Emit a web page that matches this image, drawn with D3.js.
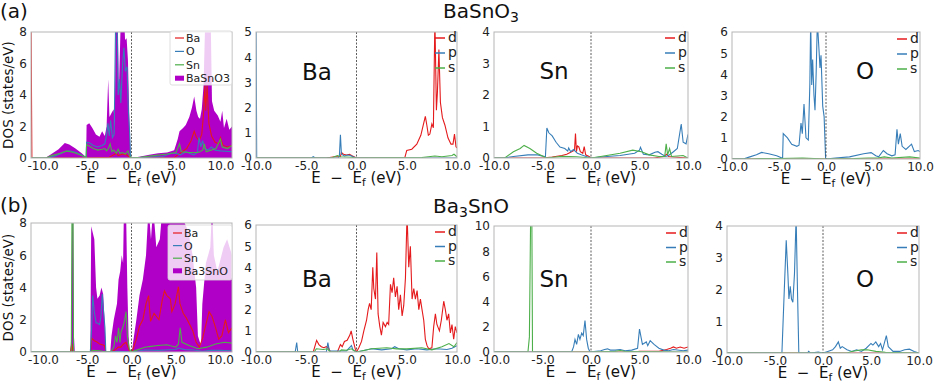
<!DOCTYPE html>
<html>
<head>
<meta charset="utf-8">
<script src="https://cdn.jsdelivr.net/npm/d3@7"></script>
<style>
  body { margin: 0; background: #fff; }
  text { font-family: "DejaVu Sans", sans-serif; }
</style>
</head>
<body>
<svg id="fig" width="937" height="384"></svg>
<script>
// ---- data: [energy (eV), DOS] ----

// (a) BaSnO3 total + atom projections
const totA = [[-11.3,0],[-9.7,0],[-9.0,0.25],[-8.2,0.55],[-7.5,0.95],[-7.0,0.85],[-6.3,0.6],[-5.6,0.3],[-5.1,0.05],[-5.05,2.1],[-4.75,2.2],[-4.4,1.9],[-4.0,1.5],[-3.6,1.35],[-3.3,1.7],[-3.0,1.4],[-2.8,2.0],[-2.62,5.0],[-2.48,2.6],[-2.2,2.9],[-2.0,3.1],[-1.88,2.0],[-1.78,9],[-1.55,9],[-1.42,4.2],[-1.22,8.5],[-1.05,9],[-0.85,9],[-0.72,7.5],[-0.55,7.6],[-0.4,6.2],[-0.22,2.0],[-0.1,0],[0,0],[1.0,0.1],[2.0,0.2],[3.0,0.3],[4.0,0.35],[4.8,0.5],[5.2,1.2],[5.4,1.7],[5.8,1.9],[6.1,2.1],[6.5,2.6],[6.8,3.2],[7.05,3.9],[7.3,3.0],[7.5,2.6],[7.7,2.5],[7.9,3.1],[8.1,4.6],[8.3,9],[8.6,9],[8.9,9],[9.05,3.6],[9.3,3.0],[9.7,2.7],[10.0,2.3],[10.2,3.0],[10.4,1.9],[10.7,2.5],[11.0,1.8],[11.3,2.0]];
const baA = [[-11.3,9],[-11.2,0],[-5,0],[-2.5,0.05],[-1.7,0.3],[-1.5,0.15],[-1.0,0.25],[-0.6,0.2],[-0.2,0.05],[0,0],[4.8,0.02],[5.2,0.2],[5.6,0.35],[6.2,0.6],[6.7,1.1],[7.05,1.7],[7.3,1.3],[7.6,1.1],[7.9,1.5],[8.1,2.8],[8.25,4.6],[8.35,3.0],[8.5,4.6],[8.7,2.2],[9.0,1.4],[9.4,1.0],[9.8,0.9],[10.0,1.3],[10.3,0.8],[10.8,0.7],[11.3,0.8]];
const oA = [[-11.3,0],[-9.3,0],[-8.5,0.15],[-7.5,0.4],[-7.0,0.45],[-6.2,0.35],[-5.5,0.15],[-5.1,0.05],[-5.05,1.0],[-4.7,0.95],[-4.3,0.8],[-3.8,0.7],[-3.3,0.8],[-3.0,0.9],[-2.8,1.5],[-2.65,2.2],[-2.5,1.4],[-2.35,2.4],[-2.15,1.3],[-1.95,1.5],[-1.78,9],[-1.62,9],[-1.5,4.0],[-1.35,5.0],[-1.2,3.5],[-1.0,6.0],[-0.85,7.0],[-0.7,5.5],[-0.5,5.8],[-0.35,3.0],[-0.2,1.5],[-0.1,0],[0,0],[1.5,0.05],[3.5,0.1],[4.5,0.3],[5.0,0.3],[5.5,0.2],[6.1,0.4],[6.5,0.3],[7.0,0.2],[7.4,0.35],[7.6,1.3],[7.8,0.7],[8.0,1.1],[8.2,0.6],[8.6,0.5],[9.0,0.7],[9.4,0.5],[10.0,0.45],[11.3,0.4]];
const snA = [[-11.3,0],[-9.6,0],[-9.0,0.15],[-8.0,0.3],[-7.3,0.45],[-6.5,0.35],[-5.8,0.2],[-5.1,0.05],[-5.05,0.85],[-4.7,0.75],[-4.3,0.6],[-3.8,0.5],[-3.3,0.55],[-3.0,0.6],[-2.8,0.45],[-2.6,0.6],[-2.4,0.9],[-2.2,0.4],[-2.0,0.5],[-1.7,0.3],[-1.5,0.55],[-1.3,0.3],[-1.0,0.35],[-0.7,0.25],[-0.4,0.45],[-0.2,0.1],[0,0],[1.0,0.05],[2.5,0.15],[4.0,0.25],[5.0,0.35],[5.4,0.9],[5.6,0.4],[6.5,0.35],[7.5,0.35],[8.0,0.5],[8.2,0.9],[8.4,0.4],[9.5,0.6],[10.0,1.2],[10.2,0.7],[10.8,0.6],[11.3,0.8]];

// BaSnO3: Ba, Sn, O orbitals
const baD1 = [[-10,0],[-3,0],[-2.2,0.05],[-1.6,0.05],[-1.5,0.22],[-1.3,0.15],[-1.0,0.12],[-0.7,0.15],[-0.4,0.08],[0,0],[4.8,0],[5.0,0.3],[5.5,0.35],[6.0,0.55],[6.4,0.9],[6.7,1.4],[6.85,1.65],[7.0,1.3],[7.15,0.9],[7.3,0.95],[7.5,1.35],[7.65,1.2],[7.8,5.5],[7.95,1.9],[8.05,2.6],[8.2,4.3],[8.35,2.2],[8.55,1.6],[8.8,1.3],[9.1,0.8],[9.4,0.55],[9.6,0.55],[9.75,0.95],[9.9,0.45],[10,0.4]];
const baP1 = [[-10,6],[-9.93,0],[-4.5,0],[-4.3,0.05],[-4.1,0],[-1.8,0],[-1.7,0.1],[-1.6,0.92],[-1.5,0.15],[-1.2,0.08],[-0.9,0.12],[-0.6,0.1],[-0.35,0.05],[0,0],[10,0]];
const baS1 = [[-10,0],[-2.5,0],[-2.2,0.05],[-1.9,0.1],[-1.6,0.05],[-0.5,0.03],[0,0],[6.5,0.02],[7.8,0.08],[8.5,0.05],[9.5,0.1],[9.7,0.15],[10,0.05]];
const snD1 = [[-10,0],[-5,0],[-4,0.03],[-3,0.08],[-2.5,0.12],[-2.0,0.2],[-1.7,0.25],[-1.6,0.78],[-1.5,0.2],[-1.4,0.38],[-1.25,0.35],[-1.1,0.2],[-0.85,0.15],[-0.7,0.36],[-0.55,0.1],[-0.2,0.05],[0,0],[6.5,0],[7.5,0.05],[7.8,0.12],[8.0,0.05],[8.5,0.03],[10,0]];
const snP1 = [[-10,0],[-9,0],[-8,0.05],[-6.5,0.1],[-5.5,0.1],[-4.7,0.04],[-4.55,0.95],[-4.35,0.8],[-4.0,0.7],[-3.6,0.5],[-3.2,0.35],[-2.7,0.3],[-2.4,0.22],[-2.3,0.32],[-2.1,0.2],[-1.8,0.27],[-1.4,0.15],[-1.0,0.1],[-0.5,0.05],[0,0],[1,0.03],[3,0.08],[4.5,0.15],[5.0,0.25],[5.1,0.34],[5.4,0.12],[6.0,0.1],[6.6,0.18],[6.9,0.2],[7.3,0.12],[7.7,0.05],[8.0,0.08],[8.5,0.2],[8.9,0.3],[9.3,1.08],[9.5,0.5],[9.8,0.45],[10,0.75]];
const snS1 = [[-10,0],[-8.9,0],[-8.0,0.2],[-7.3,0.3],[-6.9,0.4],[-6.3,0.3],[-5.6,0.15],[-4.9,0.05],[-4.6,0],[-3.0,0.05],[-1.5,0.04],[0,0],[1.0,0.05],[3.0,0.15],[4.3,0.25],[5.2,0.2],[6.0,0.1],[7.0,0.05],[7.6,0.05],[7.75,0.45],[7.9,0.1],[8.1,0.3],[8.3,0.05],[9.5,0.08],[10,0]];
const oD1 = [[-10,0],[10,0]];
const oP1 = [[-10,0],[-8.8,0],[-8.1,0.1],[-7.4,0.2],[-6.85,0.31],[-6.1,0.25],[-5.25,0.15],[-4.7,0.05],[-4.62,0],[-4.55,1.2],[-4.1,1.0],[-3.65,0.7],[-3.1,0.6],[-2.87,0.65],[-2.66,1.7],[-2.52,1.2],[-2.34,2.6],[-2.13,1.0],[-1.88,0.9],[-1.72,3.5],[-1.63,6.5],[-1.52,3.5],[-1.42,4.7],[-1.28,3.0],[-1.17,2.3],[-1.05,4.0],[-0.92,6.5],[-0.75,5.2],[-0.64,4.3],[-0.53,4.9],[-0.35,2.5],[-0.2,2.0],[-0.04,0],[0,0],[1.0,0.05],[2.5,0.1],[4.0,0.25],[4.8,0.3],[5.3,0.15],[5.6,0.1],[6.1,0.4],[6.5,0.25],[7.0,0.15],[7.35,0.2],[7.55,1.4],[7.7,0.7],[7.9,1.2],[8.1,0.6],[8.5,0.45],[9.1,0.7],[9.4,0.35],[9.8,0.4],[10,0.35]];
const oS1 = [[-10,0],[-8,0],[-7,0.02],[-5,0.02],[-2.5,0.05],[0,0],[3,0.02],[4.5,0.05],[5.5,0.05],[6.2,0.1],[7.0,0.05],[8.9,0.1],[10,0.05]];

// (b) Ba3SnO total + atom projections
const totB = [[-11.35,0],[-6.9,0],[-6.8,1.0],[-6.7,9],[-6.6,9],[-6.5,1.0],[-6.4,0],[-4.65,0],[-4.55,7.8],[-4.2,7.0],[-4.0,4.0],[-3.85,3.3],[-3.6,3.5],[-3.4,4.0],[-3.2,3.6],[-3.05,2.0],[-2.9,0],[-2.4,0],[-2.26,1.0],[-2.0,2.0],[-1.82,2.5],[-1.64,3.0],[-1.46,4.5],[-1.28,5.0],[-1.1,6.0],[-0.95,5.5],[-0.85,9],[-0.62,9],[-0.47,4.0],[-0.33,1.0],[-0.2,0],[0.05,0],[0.18,0.6],[0.55,2.0],[0.9,3.5],[1.28,4.5],[1.64,6.0],[1.93,9],[2.2,7.0],[2.45,9],[2.8,6.5],[3.2,7.0],[3.5,9],[4.2,8.2],[4.6,9],[5.5,9],[6.0,8.0],[6.4,7.5],[6.9,6.0],[7.3,4.0],[7.5,1.0],[7.85,0.4],[8.0,3.0],[8.4,5.5],[8.9,6.5],[9.1,9],[9.3,6.0],[9.7,5.0],[10.4,6.5],[10.8,7.0],[11.35,6.0]];
const baB = [[-11.35,0],[-6.9,0],[-6.75,0.5],[-6.6,0],[-4.6,0],[-4.5,0.85],[-4.2,0.7],[-3.9,0.62],[-3.6,0.5],[-3.3,0.45],[-3.05,0.4],[-2.9,0],[-2.3,0],[-1.8,0.15],[-1.5,0.3],[-1.2,0.3],[-0.9,0.5],[-0.62,0.6],[-0.4,0.3],[-0.2,0],[0.05,0],[0.18,0.2],[0.55,0.8],[0.9,1.6],[1.28,2.0],[1.64,3.0],[1.93,3.5],[2.15,1.9],[2.55,2.4],[3.1,2.0],[3.47,3.2],[3.72,3.8],[4.0,3.5],[4.38,3.3],[4.56,2.5],[4.93,3.0],[5.3,4.05],[5.47,3.0],[5.84,2.4],[6.2,2.1],[6.57,1.7],[6.93,1.3],[7.3,0.6],[7.66,0.3],[8.0,0.8],[8.4,1.7],[8.76,2.5],[9.1,2.2],[9.5,1.5],[9.85,0.8],[10.2,1.0],[10.6,2.0],[10.95,1.2],[11.35,1.5]];
const oB = [[-11.35,0],[-4.65,0],[-4.5,1.5],[-4.38,3.5],[-4.2,2.5],[-4.0,1.8],[-3.85,1.8],[-3.6,1.7],[-3.45,2.2],[-3.3,3.6],[-3.15,2.5],[-3.0,1.5],[-2.9,0],[-1.5,0.05],[0,0],[1.0,0.08],[1.5,0.12],[3.0,0.1],[5.0,0.15],[5.3,0.25],[6.0,0.15],[7.0,0.12],[8.0,0.05],[9.0,0.1],[10.0,0.1],[11.35,0.08]];
const snB = [[-11.35,0],[-6.8,0],[-6.72,9],[-6.6,9],[-6.55,0],[-4.6,0],[-4.4,0.1],[-3.5,0.08],[-2.9,0],[-2.37,0],[-2.0,0.3],[-1.8,1.0],[-1.64,0.6],[-1.46,1.5],[-1.3,0.6],[-1.2,1.2],[-1.0,1.5],[-0.8,1.9],[-0.62,2.5],[-0.47,1.0],[-0.25,0.2],[0,0],[0.5,0.1],[1.5,0.3],[2.2,0.35],[3.0,0.4],[4.0,0.45],[5.0,0.3],[5.3,0.5],[5.5,1.5],[5.7,0.6],[6.5,0.4],[7.5,0.2],[8.5,0.3],[9.5,0.5],[10.5,0.6],[11.35,0.55]];

// Ba3SnO: Ba, Sn, O orbitals
const baD2 = [[-10,0],[-4.3,0],[-3.97,0.55],[-3.74,0.35],[-3.5,0.25],[-3.25,0.2],[-3.0,0.25],[-2.8,0.2],[-2.58,0],[-1.9,0],[-1.6,0.35],[-1.42,0.25],[-1.2,0.5],[-0.93,0.55],[-0.66,0.8],[-0.53,1.0],[-0.36,0.6],[-0.1,0.1],[0,0],[0.23,0.2],[0.5,0.5],[0.73,1.0],[1.0,1.5],[1.16,2.0],[1.3,2.3],[1.46,2.0],[1.62,4.0],[1.72,3.0],[1.89,2.5],[2.02,4.7],[2.15,1.8],[2.32,1.2],[2.48,0.8],[2.65,1.4],[2.88,1.2],[3.05,1.4],[3.2,1.3],[3.38,3.2],[3.54,2.8],[3.7,3.5],[3.87,2.6],[4.04,3.1],[4.2,2.0],[4.37,2.7],[4.54,1.7],[4.7,2.2],[4.87,3.5],[5.03,6.5],[5.2,4.0],[5.36,5.0],[5.53,2.5],[5.7,3.0],[5.86,2.5],[6.03,2.9],[6.2,2.0],[6.36,2.5],[6.52,2.0],[6.69,1.5],[6.85,0.6],[7.02,0.3],[7.19,0.15],[7.5,0.2],[7.68,1.2],[7.85,1.8],[8.0,1.3],[8.25,1.0],[8.44,1.5],[8.68,2.4],[8.84,2.0],[9.0,1.5],[9.17,1.8],[9.34,0.9],[9.5,1.3],[9.67,0.6],[9.83,1.2],[10,0.9]];
const baP2 = [[-10,0],[-6.1,0],[-5.95,0.45],[-5.85,0],[-3.0,0],[-2.85,0.45],[-2.7,0.05],[-1.0,0.05],[-0.5,0.3],[-0.35,0.1],[0,0],[0.5,0.05],[1.5,0.15],[2.5,0.1],[3.5,0.15],[3.8,0.25],[4.2,0.15],[5.0,0.1],[6.0,0.15],[7.0,0.1],[8.0,0.15],[9.0,0.12],[9.5,0.18],[10,0.3]];
const baS2 = [[-10,0],[-4.2,0],[-4.0,0.15],[-3.3,0.12],[-2.9,0.15],[-2.6,0],[-1.7,0],[-1.5,0.1],[-1.0,0.08],[-0.5,0.15],[-0.2,0.05],[0,0],[0.5,0.05],[1.5,0.15],[3.0,0.2],[4.0,0.15],[5.0,0.15],[6.5,0.2],[7.5,0.1],[8.5,0.25],[9.2,0.4],[9.7,0.25],[10,0.45]];
const snD2 = [[-10,0],[4.5,0],[5.0,0.05],[7.0,0.05],[7.8,0.2],[8.2,0.3],[8.5,0.4],[8.8,0.3],[9.2,0.4],[9.6,0.3],[10,0.4]];
const snP2 = [[-10,0],[-2.0,0],[-1.8,0.4],[-1.65,1.0],[-1.48,0.6],[-1.3,1.4],[-1.14,1.0],[-0.96,1.5],[-0.8,1.3],[-0.62,2.5],[-0.45,1.0],[-0.28,0.3],[-0.1,0],[0.3,0.03],[1.0,0.1],[1.4,0.2],[1.7,0.25],[2.0,0.15],[2.5,0.15],[3.0,0.2],[3.5,0.1],[4.2,0.15],[4.8,0.3],[5.0,1.82],[5.3,0.6],[5.7,0.8],[5.85,0.5],[6.1,0.9],[6.5,0.6],[7.0,0.3],[7.5,0.15],[8.0,0.1],[8.5,0.2],[9.5,0.1],[10,0.15]];
const snS2 = [[-10,0],[-6.5,0],[-6.35,1.2],[-6.22,11],[-6.1,11],[-6.03,0],[0,0],[2.5,0.05],[3.0,0.12],[3.5,0.05],[10,0]];
const oD2 = [[-10,0],[10,0]];
const oP2 = [[-10,0],[-4.28,0],[-4.03,2.0],[-3.83,3.55],[-3.66,2.5],[-3.55,1.7],[-3.41,2.1],[-3.28,1.7],[-3.14,1.6],[-2.97,2.5],[-2.8,4.3],[-2.66,2.0],[-2.52,0],[-1.6,0],[-1.5,0.05],[-1.3,0],[-0.5,0.03],[0,0],[0.5,0.05],[1.0,0.1],[1.3,0.2],[1.6,0.35],[1.8,0.15],[2.0,0.2],[2.5,0.1],[3.0,0.05],[3.5,0.1],[4.0,0.05],[4.5,0.15],[5.0,0.3],[5.2,0.25],[5.5,0.35],[5.8,0.2],[6.0,0.3],[6.2,0.1],[6.6,0.55],[6.8,0.2],[7.3,0.05],[8.0,0.05],[8.5,0.1],[9.0,0.12],[9.5,0.05],[10,0]];
const oS2 = [[-10,0],[2.5,0],[3.0,0.05],[4.0,0.1],[4.6,0.1],[5.5,0.05],[6.5,0.02],[10,0]];

const xTicks = [-10, -5, 0, 5, 10];
const atomNames = ["Ba", "O", "Sn"];
const orbNames = ["d", "p", "s"];

const RED = "#e41a1c", BLUE = "#377eb8", GREEN = "#4daf4a", MAG = "#b000c8";
const lineColors = [RED, BLUE, GREEN];

// panel layout
const panels = [
  {x0: 31, x1: 232, y0: 32, y1: 158, xd: [-11.3, 11.3], ymax: 8, yt: [0,2,4,6,8], total: totA, totName: "BaSnO3", series: [baA, oA, snA], ylab: true, leg: {x: 175, y: 38, dy: 13.4, box: [170, 31, 62, 54]}},
  {x0: 256, x1: 457, y0: 32, y1: 158, xd: [-10, 10], ymax: 5, yt: [0,1,2,3,4,5], series: [baD1, baP1, baS1], atom: "Ba", ax: 317, ay: 80, leg: {x: 435, y: 38, dy: 15}},
  {x0: 494, x1: 688, y0: 32, y1: 158, xd: [-10, 10], ymax: 4, yt: [0,1,2,3,4], series: [snD1, snP1, snS1], atom: "Sn", ax: 554, ay: 79, leg: {x: 665, y: 38, dy: 15}},
  {x0: 732, x1: 920, y0: 32, y1: 159, xd: [-10, 10], ymax: 6, yt: [0,1,2,3,4,5,6], series: [oD1, oP1, oS1], atom: "O", ax: 865, ay: 79, leg: {x: 897, y: 39, dy: 15}},
  {x0: 31, x1: 232, y0: 223, y1: 352, xd: [-11.35, 11.35], ymax: 8, yt: [0,2,4,6,8], total: totB, totName: "Ba3SnO", series: [baB, oB, snB], ylab: true, leg: {x: 173, y: 233, dy: 12.6, box: [168, 225, 64, 55]}},
  {x0: 256, x1: 457, y0: 225, y1: 352, xd: [-10, 10], ymax: 6, yt: [0,1,2,3,4,5,6], series: [baD2, baP2, baS2], atom: "Ba", ax: 317, ay: 287, leg: {x: 435, y: 232, dy: 14.5}},
  {x0: 494, x1: 688, y0: 226, y1: 352, xd: [-10, 10], ymax: 10, yt: [0,2,4,6,8,10], series: [snD2, snP2, snS2], atom: "Sn", ax: 554, ay: 287, leg: {x: 666, y: 233, dy: 14.5}},
  {x0: 727, x1: 919, y0: 226, y1: 353, xd: [-10, 10], ymax: 4, yt: [0,1,2,3,4], series: [oD2, oP2, oS2], atom: "O", ax: 865, ay: 287, leg: {x: 897, y: 233, dy: 14.5}}
];

const svg = d3.select("#fig");
const defs = svg.append("defs");

panels.forEach(function(p, i) {
  const x = d3.scaleLinear().domain(p.xd).range([p.x0, p.x1]);
  const y = d3.scaleLinear().domain([0, p.ymax]).range([p.y1, p.y0]);
  const g = svg.append("g");

  defs.append("clipPath").attr("id", "clip" + i)
    .append("rect").attr("x", p.x0).attr("y", p.y0)
    .attr("width", p.x1 - p.x0).attr("height", p.y1 - p.y0);

  const plot = g.append("g").attr("clip-path", "url(#clip" + i + ")");

  if (p.total) {
    plot.append("path").datum(p.total)
      .attr("fill", MAG)
      .attr("d", d3.area().x(d => x(d[0])).y0(y(0)).y1(d => y(d[1])));
  }
  p.series.forEach(function(s, k) {
    plot.append("path").datum(s)
      .attr("fill", "none").attr("stroke", lineColors[k]).attr("stroke-width", 1.1)
      .attr("d", d3.line().x(d => x(d[0])).y(d => y(d[1])));
  });

  // Fermi level
  g.append("line").attr("x1", x(0)).attr("x2", x(0)).attr("y1", p.y0).attr("y2", p.y1)
    .attr("stroke", "#333").attr("stroke-width", 0.8).attr("stroke-dasharray", "2,1.5");

  // frame
  g.append("rect").attr("x", p.x0).attr("y", p.y0)
    .attr("width", p.x1 - p.x0).attr("height", p.y1 - p.y0)
    .attr("fill", "none").attr("stroke", "#b5b5b5").attr("stroke-width", 1);

  // axes
  const xa = g.append("g").attr("transform", "translate(0," + p.y1 + ")")
    .call(d3.axisBottom(x).tickValues(xTicks).tickSize(0).tickPadding(3).tickFormat(d => d.toFixed(1)));
  const ya = g.append("g").attr("transform", "translate(" + p.x0 + ",0)")
    .call(d3.axisLeft(y).tickValues(p.yt).tickSize(0).tickPadding(4).tickFormat(d3.format("d")));
  [xa, ya].forEach(a => {
    a.select(".domain").remove();
    a.selectAll("text").attr("font-size", 12).attr("fill", "#222")
      .attr("font-family", "DejaVu Sans, sans-serif");
  });

  // x label
  const xl = g.append("text").attr("x", (p.x0 + p.x1) / 2).attr("y", p.y1 + 25)
    .attr("text-anchor", "middle").attr("font-size", 15).attr("fill", "#111");
  xl.append("tspan").text("E\u00a0\u00a0\u2212\u00a0\u00a0E");
  xl.append("tspan").attr("font-size", 10.5).attr("dy", 3).text("f");
  xl.append("tspan").attr("dy", -3).text("\u00a0(eV)");

  if (p.ylab) {
    g.append("text").attr("transform", "translate(13," + (p.y0 + p.y1) / 2 + ") rotate(-90)")
      .attr("text-anchor", "middle").attr("font-size", 13.5).attr("fill", "#111")
      .text("DOS (states/eV)");
  }

  if (p.atom) {
    g.append("text").attr("x", p.ax).attr("y", p.ay).attr("text-anchor", "middle")
      .attr("font-size", 23).attr("fill", "#111").text(p.atom);
  }

  // legend
  const L = p.leg;
  if (p.total) {
    g.append("rect").attr("x", L.box[0]).attr("y", L.box[1]).attr("width", L.box[2]).attr("height", L.box[3])
      .attr("rx", 2).attr("fill", "#fff").attr("fill-opacity", 0.8)
      .attr("stroke", "#d5d5d5").attr("stroke-width", 0.8);
    atomNames.forEach(function(n, k) {
      g.append("line").attr("x1", L.x).attr("x2", L.x + 9).attr("y1", L.y + k * L.dy).attr("y2", L.y + k * L.dy)
        .attr("stroke", lineColors[k]).attr("stroke-width", 1.2);
      g.append("text").attr("x", L.x + 11).attr("y", L.y + k * L.dy + 4).attr("font-size", 11)
        .attr("fill", "#222").text(n);
    });
    g.append("rect").attr("x", L.x).attr("y", L.y + 3 * L.dy - 2.5).attr("width", 9).attr("height", 5)
      .attr("fill", MAG);
    g.append("text").attr("x", L.x + 11).attr("y", L.y + 3 * L.dy + 4).attr("font-size", 11)
      .attr("fill", "#222").text(p.totName);
  } else {
    orbNames.forEach(function(n, k) {
      g.append("line").attr("x1", L.x).attr("x2", L.x + 10).attr("y1", L.y + k * L.dy).attr("y2", L.y + k * L.dy)
        .attr("stroke", lineColors[k]).attr("stroke-width", 1.5);
      g.append("text").attr("x", L.x + 13).attr("y", L.y + k * L.dy + 4).attr("font-size", 14)
        .attr("fill", "#222").text(n);
    });
  }
});

// titles
function title(txt, sub, after, cx, by) {
  const t = svg.append("text").attr("x", cx).attr("y", by).attr("text-anchor", "middle")
    .attr("font-family", "Liberation Serif, serif").attr("font-size", 20).attr("fill", "#111");
  t.append("tspan").text(txt);
  t.append("tspan").attr("font-size", 14).attr("dy", 4).text(sub);
  if (after) t.append("tspan").attr("dy", -4).text(after);
}
title("BaSnO", "3", "", 481, 18);
title("Ba", "3", "SnO", 471, 213);

svg.append("text").attr("x", 0).attr("y", 18).attr("font-family", "Liberation Serif, serif")
  .attr("font-size", 20).attr("fill", "#111").text("(a)");
svg.append("text").attr("x", 0).attr("y", 212).attr("font-family", "Liberation Serif, serif")
  .attr("font-size", 20).attr("fill", "#111").text("(b)");
</script>
</body>
</html>
